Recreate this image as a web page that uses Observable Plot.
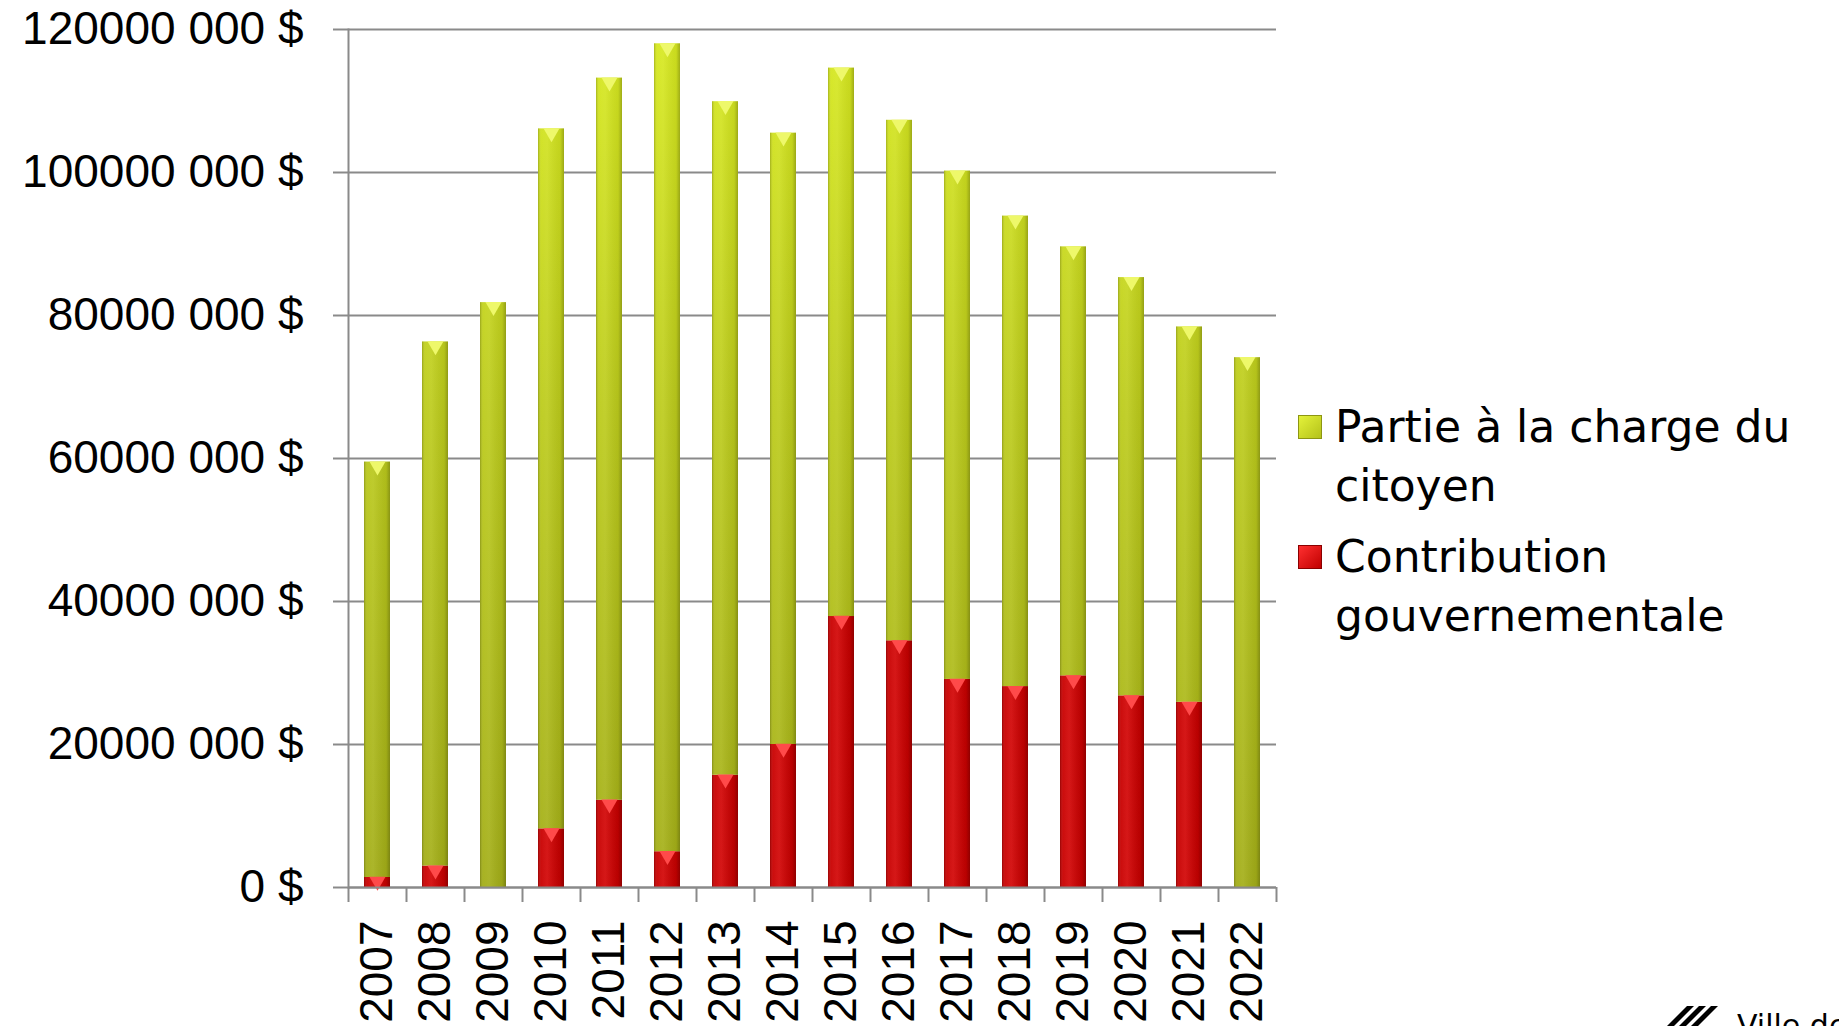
<!DOCTYPE html>
<html><head><meta charset="utf-8">
<script src="https://cdn.jsdelivr.net/npm/d3@7"></script>
<script src="https://cdn.jsdelivr.net/npm/@observablehq/plot@0.6"></script>
<style>
body{margin:0;background:#fff;width:1839px;height:1026px;overflow:hidden;position:relative;font-family:"Liberation Sans",sans-serif}
#chart{position:absolute;left:0;top:0}
#legend{position:absolute;left:1298px;top:397px;font-family:"DejaVu Sans",sans-serif;font-size:44px;line-height:59px;color:#000}
.item{display:flex;align-items:flex-start;margin-bottom:12px}
.sw{width:24px;height:24px;margin-top:18px;margin-right:13px;flex:none;box-sizing:border-box}
.swg{background:linear-gradient(135deg,#e4f23a,#b4c21a);border:1px solid #8d9612}
.swr{background:linear-gradient(135deg,#ff3030,#c00000);border:1px solid #8a0000}
#logo{position:absolute;left:1650px;top:1004px;width:189px;height:22px;overflow:hidden}
#logo .st{position:absolute;top:2px;width:7px;height:30px;background:#000;transform:skewX(-45deg)}
#logo .tx{position:absolute;left:87px;top:4px;font-family:"DejaVu Sans",sans-serif;font-size:30px;color:#000;white-space:nowrap}
</style></head><body>
<div id="chart"></div>
<div id="legend">
  <div class="item"><div class="sw swg"></div><div>Partie à la charge du<br>citoyen</div></div>
  <div class="item"><div class="sw swr"></div><div>Contribution<br>gouvernementale</div></div>
</div>
<div id="logo"><div class="st" style="left:22px"></div><div class="st" style="left:34px"></div><div class="st" style="left:46px"></div><div class="tx">Ville de</div></div>
<script>
// Years (categories)
const years = [2007, 2008, 2009, 2010, 2011, 2012, 2013, 2014, 2015, 2016, 2017, 2018, 2019, 2020, 2021, 2022];
// Series values in millions of dollars
const citoyen      = [58.1, 73.3, 81.8, 97.9, 101.0, 113.0, 94.2, 85.5, 76.7, 72.8, 71.1, 65.8, 60.0, 58.5, 52.5, 74.1];
const gouvernement = [1.4, 3.0, 0, 8.2, 12.2, 5.0, 15.7, 20.0, 37.9, 34.5, 29.1, 28.1, 29.6, 26.8, 25.9, 0];
const seriesNames = ["Contribution gouvernementale", "Partie à la charge du citoyen"];
const yTicks = [0, 20e6, 40e6, 60e6, 80e6, 100e6, 120e6];
const fmt = d => d === 0 ? "0 $" : `${d / 1000} 000 $`;

const M = 1e6;
const data = [];
years.forEach((y, i) => {
  data.push({year: y, series: seriesNames[0], value: gouvernement[i] * M});
  data.push({year: y, series: seriesNames[1], value: citoyen[i] * M});
});
const greenTops = years.map((y, i) => ({year: y, v: (citoyen[i] + gouvernement[i]) * M}));
const redTops = years.map((y, i) => ({year: y, v: gouvernement[i] * M})).filter(d => d.v > 0);

const gray = "#8a8a8a";
const chart = Plot.plot({
  width: 1290, height: 1026,
  marginLeft: 348, marginRight: 14, marginTop: 29, marginBottom: 139,
  style: {fontFamily: "Liberation Sans", fontSize: "46px", color: "#000", background: "transparent"},
  x: {type: "band", domain: years, paddingInner: 0.55, paddingOuter: 0.275, label: null},
  y: {domain: [0, 120e6], label: null},
  color: {domain: seriesNames, range: ["url(#gradRed)", "url(#gradGreen)"]},
  marks: [
    Plot.gridY(yTicks, {stroke: gray, strokeOpacity: 1, strokeWidth: 2}),
    Plot.axisY(yTicks, {tickSize: 15, tickPadding: 30, stroke: gray, strokeWidth: 2, tickFormat: fmt, fontSize: 46, label: null}),
    Plot.frame({anchor: "left", stroke: gray, strokeWidth: 2}),
    Plot.barY(data, {x: "year", y: "value", fill: "series"}),
    Plot.barY(data, {x: "year", y: "value", fill: "url(#shade)"}),
    Plot.dot(greenTops, {x: "year", y: "v", symbol: "triangle", rotate: 180, r: 6, dy: 4, fill: "#eef86a"}),
    Plot.dot(redTops, {x: "year", y: "v", symbol: "triangle", rotate: 180, r: 6, dy: 4, fill: "#ff4a4a"}),
    Plot.ruleY([0], {stroke: gray, strokeWidth: 2}),
    Plot.axisX({tickSize: 15, dx: -29, tickFormat: () => "", stroke: gray, strokeWidth: 2, label: null}),
    Plot.axisX([years[years.length - 1]], {tickSize: 15, dx: 29, tickFormat: () => "", stroke: gray, strokeWidth: 2, label: null}),
    Plot.axisX({tickSize: 0, tickRotate: -90, tickPadding: 33, fontSize: 46, tickFormat: d => String(d), label: null})
  ]
});

const ns = "http://www.w3.org/2000/svg";
const defs = document.createElementNS(ns, "defs");
defs.innerHTML = `
  <linearGradient id="gradGreen" gradientUnits="userSpaceOnUse" x1="0" y1="29" x2="0" y2="887">
    <stop offset="0" stop-color="#d8ea20"/>
    <stop offset="0.45" stop-color="#bccb1c"/>
    <stop offset="1" stop-color="#a3ae18"/>
  </linearGradient>
  <linearGradient id="gradRed" x1="0" y1="0" x2="1" y2="0">
    <stop offset="0" stop-color="#c40000"/>
    <stop offset="0.35" stop-color="#d20404"/>
    <stop offset="1" stop-color="#c00000"/>
  </linearGradient>
  <linearGradient id="shade" x1="0" y1="0" x2="1" y2="0">
    <stop offset="0" stop-color="#000" stop-opacity="0.22"/>
    <stop offset="0.12" stop-color="#fff" stop-opacity="0.05"/>
    <stop offset="0.35" stop-color="#fff" stop-opacity="0.08"/>
    <stop offset="0.85" stop-color="#000" stop-opacity="0.06"/>
    <stop offset="1" stop-color="#000" stop-opacity="0.25"/>
  </linearGradient>`;
chart.insertBefore(defs, chart.firstChild);
document.getElementById("chart").appendChild(chart);
</script>
</body></html>
